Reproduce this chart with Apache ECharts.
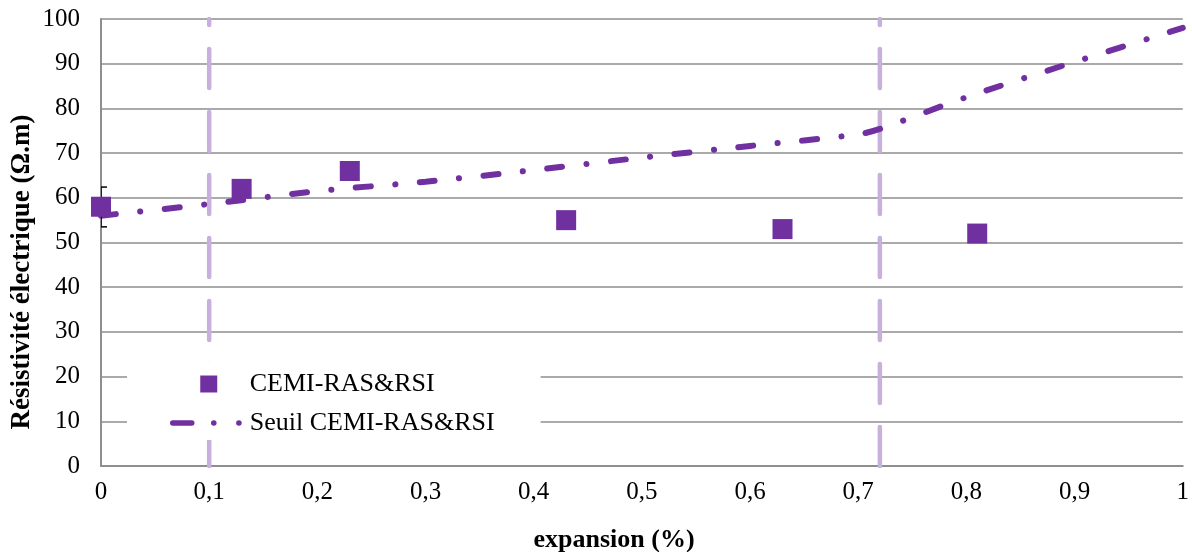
<!DOCTYPE html>
<html>
<head>
<meta charset="utf-8">
<script src="https://cdn.jsdelivr.net/npm/echarts@6/dist/echarts.min.js"></script>
<style>
  html, body { margin: 0; padding: 0; background: #fff; }
  #chart { width: 1192px; height: 552px; }
</style>
</head>
<body>
<div id="chart"></div>
<script>
// mesures
var expansion = [0, 0.13, 0.23, 0.43, 0.63, 0.81];
var resistivite = [58, 62, 66, 55, 53, 52];
// barre d'erreur au premier point
var errX = [0];
var errLow = [53.5];
var errHigh = [62.4];
// courbe seuil
var seuilX = [0, 0.1, 0.2, 0.3, 0.4, 0.5, 0.6, 0.7, 0.72, 0.8, 0.9, 1];
var seuilY = [56, 58.6, 61.5, 63.6, 66.2, 69, 71.6, 74.2, 75.4, 82.5, 90.4, 98];
// lignes verticales
var limites = [0.1, 0.72];

var violet = '#7030a0';
var serif = '"Liberation Serif", "Times New Roman", serif';

var chart = echarts.init(document.getElementById('chart'));

var series = [];
limites.forEach(function (x) {
    series.push({
        type: 'line',
        name: 'lim' + x,
        data: [[x, 0], [x, 100]],
        symbol: 'none',
        silent: true,
        z: 1,
        lineStyle: { color: '#c8b0dc', width: 4.5, type: [39, 24], cap: 'round' }
    });
});
series.push({
    type: 'line',
    name: 'Seuil CEMI-RAS&RSI',
    data: seuilX.map(function (x, i) { return [x, seuilY[i]]; }),
    symbol: 'none',
    smooth: 0.3,
    z: 2,
    lineStyle: { color: violet, width: 6, type: [15, 24.5, 0.1, 24.5], cap: 'round' }
});
series.push({
    type: 'custom',
    name: 'err',
    clip: true,
    z: 3,
    data: errX.map(function (x, i) { return [x, errLow[i], errHigh[i]]; }),
    renderItem: function (params, api) {
        var lo = api.coord([api.value(0), api.value(1)]);
        var hi = api.coord([api.value(0), api.value(2)]);
        var w = 6;
        var st = { stroke: '#000', lineWidth: 1.5 };
        return {
            type: 'group',
            children: [
                { type: 'line', shape: { x1: lo[0], y1: lo[1], x2: hi[0], y2: hi[1] }, style: st },
                { type: 'line', shape: { x1: lo[0] - w, y1: lo[1], x2: lo[0] + w, y2: lo[1] }, style: st },
                { type: 'line', shape: { x1: hi[0] - w, y1: hi[1], x2: hi[0] + w, y2: hi[1] }, style: st }
            ]
        };
    }
});
series.push({
    type: 'scatter',
    name: 'CEMI-RAS&RSI',
    data: expansion.map(function (x, i) { return [x, resistivite[i]]; }),
    symbol: 'rect',
    symbolSize: 20,
    z: 4,
    itemStyle: { color: violet, opacity: 1 }
});

var option = {
    animation: false,
    backgroundColor: '#fff',
    grid: { left: 101, right: 9, top: 19, bottom: 86 },
    legend: {
        orient: 'vertical',
        left: 127,
        top: 362,
        padding: [9, 46, 4, 43],
        backgroundColor: '#fff',
        itemWidth: 72,
        itemHeight: 17,
        itemGap: 13,
        z: 10,
        textStyle: { fontFamily: serif, fontSize: 26, color: '#000' },
        data: [
            { name: 'CEMI-RAS&RSI', icon: 'path://M0,0h10v10h-10z', itemStyle: { color: violet, opacity: 1 } },
            {
                name: 'Seuil CEMI-RAS&RSI',
                itemStyle: { color: 'rgba(0,0,0,0)', opacity: 0 },
                lineStyle: { color: violet, width: 5.5, type: [19, 22, 0.1, 25, 0.1, 60], cap: 'round' }
            }
        ]
    },
    xAxis: {
        type: 'value',
        min: 0,
        max: 1,
        interval: 0.1,
        axisLine: { show: true, lineStyle: { color: '#8e8e8e', width: 2 } },
        axisTick: { show: false },
        splitLine: { show: false },
        axisLabel: {
            margin: 14,
            fontFamily: serif,
            fontSize: 25,
            color: '#000',
            formatter: function (v) { return String(+v.toFixed(1)).replace('.', ','); }
        }
    },
    yAxis: {
        type: 'value',
        min: 0,
        max: 100,
        interval: 10,
        axisLine: { show: true, lineStyle: { color: '#8e8e8e', width: 2 } },
        axisTick: { show: false },
        splitLine: { lineStyle: { color: '#8e8e8e', width: 1.5 } },
        axisLabel: { margin: 21, fontFamily: serif, fontSize: 25, color: '#000' }
    },
    graphic: [
        {
            type: 'text',
            x: 22,
            y: 272,
            rotation: Math.PI / 2,
            style: {
                text: 'Résistivité électrique (Ω.m)',
                font: 'bold 27px ' + serif,
                fill: '#000',
                align: 'center',
                verticalAlign: 'middle'
            }
        },
        {
            type: 'text',
            x: 614,
            y: 540,
            style: {
                text: 'expansion (%)',
                font: 'bold 26px ' + serif,
                fill: '#000',
                align: 'center',
                verticalAlign: 'middle'
            }
        }
    ],
    series: series
};

chart.setOption(option);
</script>
</body>
</html>
